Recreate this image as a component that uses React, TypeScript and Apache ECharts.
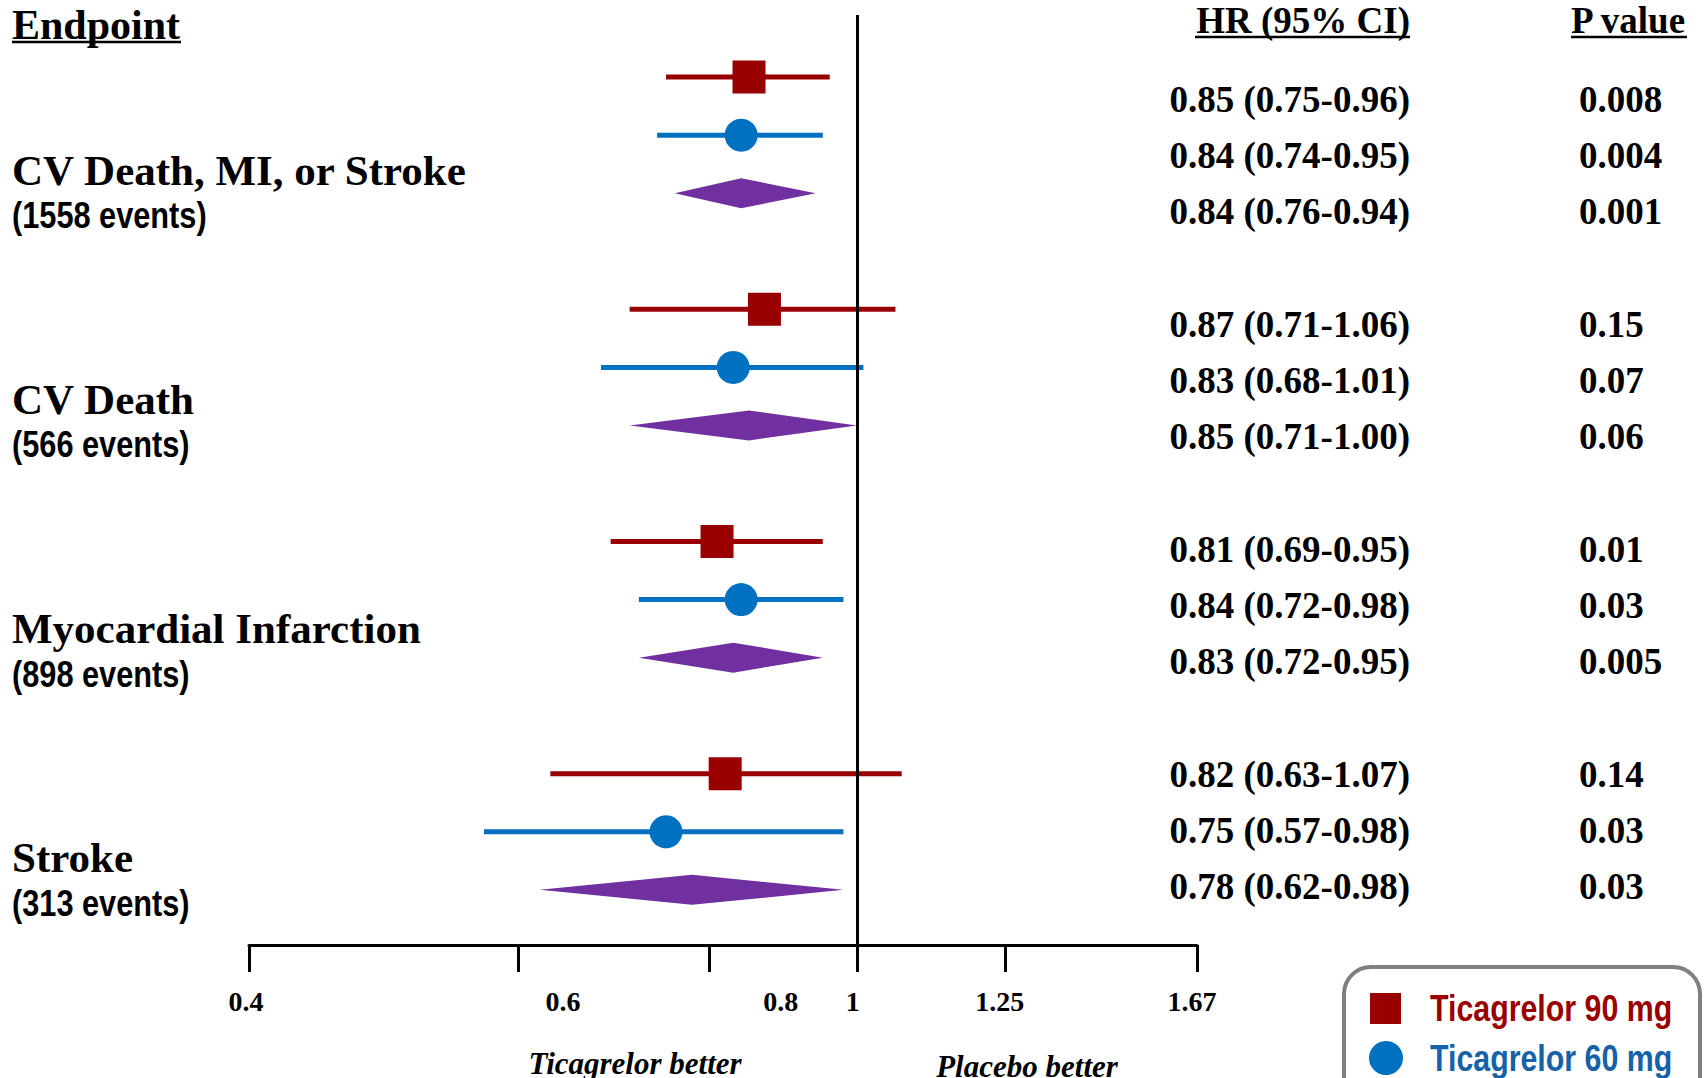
import React, { useEffect, useRef } from "react";
import * as echarts from "echarts";

const endpoints = ["CV Death, MI, or Stroke", "CV Death", "Myocardial Infarction", "Stroke"];
const eventCounts = ["(1558 events)", "(566 events)", "(898 events)", "(313 events)"];

const hr90 = [0.85, 0.87, 0.81, 0.82];
const lo90 = [0.75, 0.71, 0.69, 0.63];
const hi90 = [0.96, 1.06, 0.95, 1.07];
const p90 = ["0.008", "0.15", "0.01", "0.14"];

const hr60 = [0.84, 0.83, 0.84, 0.75];
const lo60 = [0.74, 0.68, 0.72, 0.57];
const hi60 = [0.95, 1.01, 0.98, 0.98];
const p60 = ["0.004", "0.07", "0.03", "0.03"];

const hrPooled = [0.84, 0.85, 0.83, 0.78];
const loPooled = [0.76, 0.71, 0.72, 0.62];
const hiPooled = [0.94, 1.0, 0.95, 0.98];
const pPooled = ["0.001", "0.06", "0.005", "0.03"];

const tickValues = [0.4, 0.6, 0.8, 1, 1.25, 1.67];
const tickLabels = ["0.4", "0.6", "0.8", "1", "1.25", "1.67"];
const labelShift = [-3, 45, 72, -4, -5, -5];

const seriesNames = ["Ticagrelor 90 mg", "Ticagrelor 60 mg"];

const RED = "#990000";
const BLUE = "#0070C0";
const BLUE_TEXT = "#1562A8";
const PURPLE = "#7030A0";
const SERIF = "'Liberation Serif', 'Times New Roman', serif";
const SANS = "'Liberation Sans', Arial, sans-serif";

const ln = Math.log;
const rowIndex = (g: number, r: number) => g * 4 + r;

function fmtHR(h: number, l: number, u: number) {
  return `${h.toFixed(2)} (${l.toFixed(2)}-${u.toFixed(2)})`;
}

function buildOption() {
  const ci90 = hr90.map((_, g) => [ln(lo90[g]), ln(hi90[g]), rowIndex(g, 0)]);
  const ci60 = hr60.map((_, g) => [ln(lo60[g]), ln(hi60[g]), rowIndex(g, 1)]);
  const pt90 = hr90.map((v, g) => [ln(v), rowIndex(g, 0)]);
  const pt60 = hr60.map((v, g) => [ln(v), rowIndex(g, 1)]);
  const dia = hrPooled.map((v, g) => [ln(loPooled[g]), ln(v), ln(hiPooled[g]), rowIndex(g, 2)]);

  const rich: any = {};
  tickLabels.forEach((_, i) => {
    const d = labelShift[i];
    rich["t" + i] = {
      fontFamily: SERIF,
      fontWeight: "bold",
      fontSize: 28,
      color: "#000",
      padding: d >= 0 ? [0, 0, 0, 2 * d] : [0, -2 * d, 0, 0],
    };
  });

  const lineRender = (color: string) => (params: any, api: any) => {
    const y = api.value(2);
    const a = api.coord([api.value(0), y]);
    const b = api.coord([api.value(1), y]);
    return {
      type: "line",
      shape: { x1: a[0], y1: a[1], x2: b[0], y2: b[1] },
      style: { stroke: color, lineWidth: 5 },
    };
  };

  const graphic: any[] = [];
  const txt = (text: string, x: number, y: number, opts: any = {}) => {
    graphic.push({
      type: "text",
      x,
      y,
      scaleX: opts.scaleX ?? 1,
      style: {
        text,
        fill: opts.fill ?? "#000",
        fontFamily: opts.fontFamily ?? SERIF,
        fontWeight: "bold",
        fontStyle: opts.fontStyle ?? "normal",
        fontSize: opts.fontSize ?? 37,
        align: opts.align ?? "left",
        verticalAlign: "middle",
        textAlign: opts.align ?? "left",
        textVerticalAlign: "middle",
      },
      z: 100,
    });
  };
  const uline = (x1: number, x2: number, y: number) => {
    graphic.push({
      type: "line",
      shape: { x1, y1: y, x2, y2: y },
      style: { stroke: "#000", lineWidth: 2.5 },
      z: 100,
    });
  };

  // Headers
  txt("Endpoint", 12, 25, { fontSize: 42 });
  uline(12, 181, 42);
  txt("HR (95% CI)", 1410, 20, { align: "right" });
  uline(1195, 1410, 37);
  txt("P value", 1571, 20);
  uline(1571, 1687, 37);

  // Endpoint labels
  endpoints.forEach((name, g) => {
    txt(name, 12, 170 + g * 229, { fontSize: 43 });
    txt(eventCounts[g], 12, 215 + g * 229.3, {
      fontSize: 37,
      fontFamily: SANS,
      scaleX: 0.83,
    });
  });

  // HR and P value columns
  const hrRows = [
    [hr90, lo90, hi90, p90],
    [hr60, lo60, hi60, p60],
    [hrPooled, loPooled, hiPooled, pPooled],
  ] as any[];
  for (let g = 0; g < 4; g++) {
    hrRows.forEach((row, r) => {
      const y = 99 + g * 225.3 + r * 56;
      txt(fmtHR(row[0][g], row[1][g], row[2][g]), 1410, y, { align: "right" });
      txt(row[3][g], 1579, y);
    });
  }

  // Direction labels
  txt("Ticagrelor better", 635, 1063, { fontSize: 31, fontStyle: "italic", align: "center" });
  txt("Placebo better", 1027, 1066, { fontSize: 31, fontStyle: "italic", align: "center" });

  // Legend box (drawn as graphic so it can run past the page edge like the reference)
  graphic.push({
    type: "rect",
    shape: { x: 1344, y: 967, width: 356, height: 200, r: 27 },
    style: { fill: "#fff", stroke: "#808080", lineWidth: 4 },
    z: 90,
  });
  graphic.push({
    type: "rect",
    shape: { x: 1370, y: 993, width: 31, height: 31 },
    style: { fill: RED },
    z: 100,
  });
  graphic.push({
    type: "circle",
    shape: { cx: 1386, cy: 1058, r: 17 },
    style: { fill: BLUE },
    z: 100,
  });
  txt(seriesNames[0], 1430, 1008, { fontFamily: SANS, scaleX: 0.82, fill: RED });
  txt(seriesNames[1], 1430, 1058, { fontFamily: SANS, scaleX: 0.82, fill: BLUE_TEXT });

  return {
    animation: false,
    backgroundColor: "#fff",
    textStyle: { fontFamily: SERIF },
    grid: { left: 249, right: 507, top: 15, bottom: 133, containLabel: false },
    xAxis: {
      type: "value",
      min: ln(tickValues[0]),
      max: ln(tickValues[tickValues.length - 1]),
      splitLine: { show: false },
      axisLine: { show: true, onZero: false, lineStyle: { color: "#000", width: 3 } },
      axisTick: {
        show: true,
        inside: false,
        length: 27,
        lineStyle: { color: "#000", width: 3 },
        customValues: tickValues.map(ln),
      },
      axisLabel: {
        show: true,
        margin: 42,
        customValues: tickValues.map(ln),
        formatter: (v: number) => {
          let idx = 0;
          let best = Infinity;
          tickValues.forEach((t, i) => {
            const d = Math.abs(ln(t) - v);
            if (d < best) {
              best = d;
              idx = i;
            }
          });
          return `{t${idx}|${tickLabels[idx]}}`;
        },
        rich,
      },
    },
    yAxis: {
      type: "value",
      inverse: true,
      min: -1.07,
      max: 14.95,
      show: false,
      splitLine: { show: false },
    },
    series: [
      {
        name: "90 mg CI",
        type: "custom",
        renderItem: lineRender(RED),
        encode: { x: [0, 1], y: 2 },
        data: ci90,
        z: 3,
        markLine: {
          silent: true,
          symbol: "none",
          label: { show: false },
          lineStyle: { color: "#000", width: 3, type: "solid" },
          data: [{ xAxis: 0 }],
        },
      },
      {
        name: "60 mg CI",
        type: "custom",
        renderItem: lineRender(BLUE),
        encode: { x: [0, 1], y: 2 },
        data: ci60,
        z: 3,
      },
      {
        name: "Pooled",
        type: "custom",
        renderItem: (params: any, api: any) => {
          const y = api.value(3);
          const l = api.coord([api.value(0), y]);
          const m = api.coord([api.value(1), y]);
          const r = api.coord([api.value(2), y]);
          return {
            type: "polygon",
            shape: {
              points: [
                [l[0], m[1]],
                [m[0], m[1] - 15],
                [r[0], m[1]],
                [m[0], m[1] + 15],
              ],
            },
            style: { fill: PURPLE },
          };
        },
        encode: { x: [0, 1, 2], y: 3 },
        data: dia,
        z: 3,
      },
      {
        name: seriesNames[0],
        type: "scatter",
        symbol: "rect",
        symbolSize: 33,
        itemStyle: { color: RED, opacity: 1 },
        data: pt90,
        z: 5,
      },
      {
        name: seriesNames[1],
        type: "scatter",
        symbol: "circle",
        symbolSize: 33,
        itemStyle: { color: BLUE, opacity: 1 },
        data: pt60,
        z: 5,
      },
    ],
    graphic,
  };
}

export default function App() {
  const ref = useRef<HTMLDivElement>(null);
  useEffect(() => {
    if (!ref.current) return;
    const chart = echarts.init(ref.current, null, { renderer: "svg" });
    chart.setOption(buildOption() as any);
    return () => chart.dispose();
  }, []);
  return (
    <div
      ref={ref}
      style={{ position: "absolute", left: 0, top: 0, width: 1704, height: 1078, background: "#fff" }}
    />
  );
}
